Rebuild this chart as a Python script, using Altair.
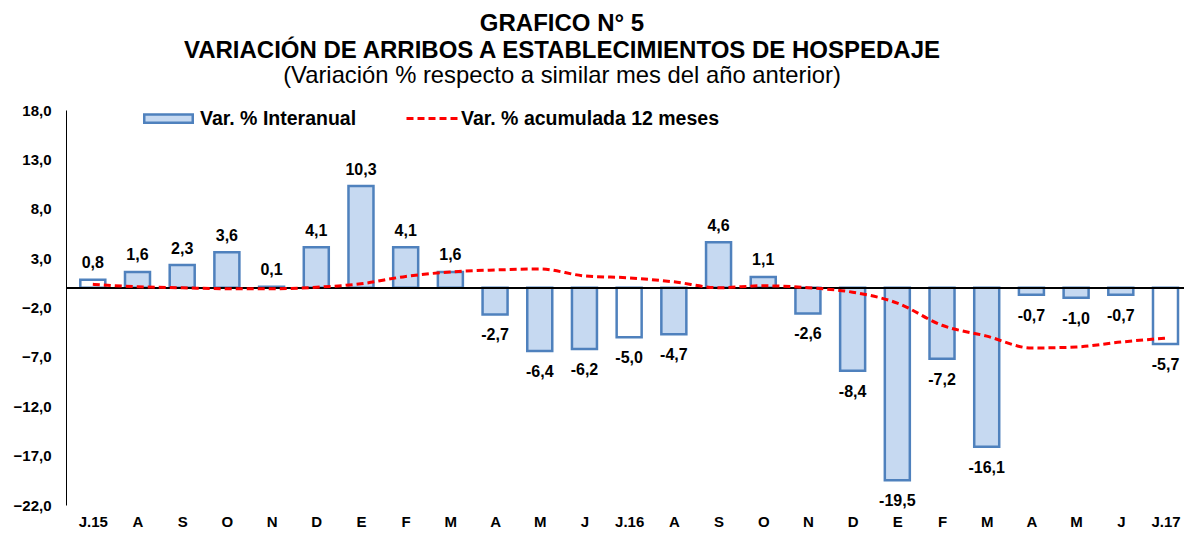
import altair as alt
import pandas as pd

meses = ["J.15", "A", "S", "O", "N", "D", "E", "F", "M", "A", "M", "J",
         "J.16", "A", "S", "O", "N", "D", "E", "F", "M", "A", "M", "J", "J.17"]
interanual = [0.8, 1.6, 2.3, 3.6, 0.1, 4.1, 10.3, 4.1, 1.6, -2.7, -6.4, -6.2,
              -5.0, -4.7, 4.6, 1.1, -2.6, -8.4, -19.5, -7.2, -16.1, -0.7, -1.0, -0.7, -5.7]
acumulada = [0.35, 0.1, 0.0, -0.1, -0.1, 0.05, 0.4, 1.15, 1.6, 1.8, 1.9, 1.2,
             1.0, 0.6, 0.0, 0.2, 0.0, -0.45, -1.55, -3.8, -4.9, -6.1, -6.0, -5.5, -5.1]
y_ticks = [18, 13, 8, 3, -2, -7, -12, -17, -22]

titulo = ["GRAFICO N° 5", "VARIACIÓN DE ARRIBOS A ESTABLECIMIENTOS DE HOSPEDAJE"]
subtitulo = "(Variación % respecto a similar mes del año anterior)"
serie_barras = "Var. % Interanual"
serie_linea = "Var. % acumulada 12 meses"

df = pd.DataFrame({"i": list(range(len(meses))), "mes": meses,
                   "inter": interanual, "acum": acumulada})
df["label"] = df["inter"].map(lambda v: f"{v:.1f}".replace(".", ","))
df["julio"] = df["mes"].str.startswith("J.")
df["s1"] = serie_barras
df["s2"] = serie_linea

FONT = "Liberation Sans, Arial, sans-serif"
label_expr = "[" + ",".join(f"'{m}'" for m in meses) + "][datum.value]"

xscale = alt.Scale(domain=[-0.4878, 24.302], nice=False, zero=False)
xaxis = alt.Axis(values=list(range(len(meses))), labelExpr=label_expr, grid=False,
                 domain=False, ticks=False, tickSize=0, labelPadding=9,
                 labelFont=FONT, labelFontSize=15, labelFontWeight="bold",
                 labelColor="black", labelBaseline="top", title=None,
                 labelFlush=False, labelOverlap=False)
yscale = alt.Scale(domain=[-22, 18], nice=False, zero=False)
yaxis = alt.Axis(values=y_ticks, labelExpr="replace(format(datum.value, '.1f'), '.', ',')",
                 grid=False, ticks=False, tickSize=0, domainColor="black", domainWidth=1,
                 labelPadding=15, labelFont=FONT, labelFontSize=15, labelFontWeight="bold",
                 labelColor="black", title=None)

base = alt.Chart(df)
X = alt.X("i:Q", scale=xscale, axis=xaxis)

bars = base.mark_bar(size=25, stroke="#4f81bd", strokeWidth=2.5).encode(
    x=X,
    y=alt.Y("inter:Q", scale=yscale, axis=yaxis),
    y2=alt.datum(0),
    fill=alt.condition(
        "datum.julio",
        alt.value("white"),
        alt.Fill("s1:N", scale=alt.Scale(domain=[serie_barras], range=["#c6d9f1"]),
                 legend=alt.Legend(title=None, orient="none", legendX=76, legendY=-18,
                                   symbolType="M-0.97,-0.165L0.97,-0.165L0.97,0.165L-0.97,0.165Z",
                                   symbolSize=2500, symbolStrokeColor="#4f81bd",
                                   symbolStrokeWidth=2.5, symbolOpacity=1,
                                   labelFont=FONT, labelFontSize=19.5, labelFontWeight="bold",
                                   labelColor="black", labelOffset=5, labelLimit=500,
                                   padding=0)),
    ),
)

zero = base.mark_rule(color="black", strokeWidth=1).encode(y=alt.datum(0))

line = base.mark_line(strokeWidth=3, strokeDash=[7, 4], interpolate="monotone").encode(
    x=X,
    y=alt.Y("acum:Q", scale=yscale, axis=yaxis),
    stroke=alt.Stroke("s2:N", scale=alt.Scale(domain=[serie_linea], range=["#ff0000"]),
                      legend=alt.Legend(title=None, orient="none", legendX=339, legendY=-19,
                                        symbolType="stroke", symbolSize=2704,
                                        symbolStrokeWidth=3, symbolDash=[7, 4],
                                        labelFont=FONT, labelFontSize=19.5,
                                        labelFontWeight="bold", labelColor="black",
                                        labelOffset=1, labelLimit=500, padding=0)),
)

pos = base.transform_filter("datum.inter >= 0").mark_text(
    font=FONT, fontSize=16, fontWeight="bold", baseline="alphabetic", dy=-11.5, color="black"
).encode(x=X, y=alt.Y("inter:Q", scale=yscale, axis=yaxis), text="label:N")

neg = base.transform_filter("datum.inter < 0").mark_text(
    font=FONT, fontSize=16, fontWeight="bold", baseline="alphabetic", dy=26, color="black"
).encode(x=X, y=alt.Y("inter:Q", scale=yscale, axis=yaxis), text="label:N")

chart = alt.layer(bars, zero, line, pos, neg).properties(
    width=1118, height=395,
    autosize=alt.AutoSizeParams(type="none"),
    padding={"left": 58, "top": 102, "right": 0, "bottom": 24},
    title=alt.Title(text=titulo, subtitle=subtitulo, font=FONT, fontSize=24,
                    fontWeight="bold", color="black", lineHeight=27.6,
                    subtitleFont=FONT, subtitleFontSize=23.8, subtitleFontWeight="normal",
                    subtitleColor="black", subtitlePadding=1, anchor="middle",
                    dx=-63, offset=3),
).configure_view(stroke=None).resolve_scale(fill="independent", stroke="independent")

chart.save("out.html", embed_options={"renderer": "svg", "actions": False})
